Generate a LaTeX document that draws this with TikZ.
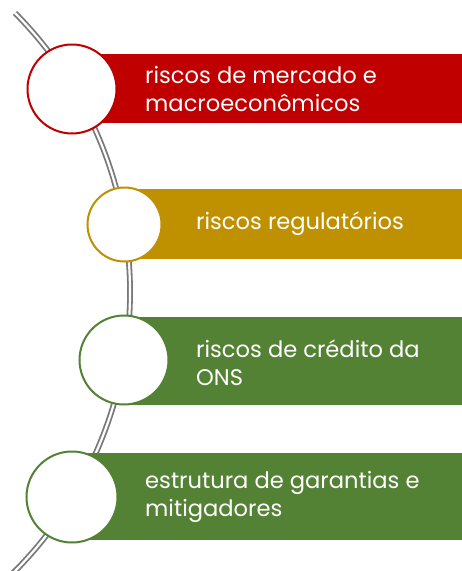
\documentclass[tikz,border=0pt]{standalone}
\usepackage{fontspec}
\setmainfont{Poppins}
\definecolor{rred}{HTML}{C00000}
\definecolor{ggold}{HTML}{BF9000}
\definecolor{ggreen}{HTML}{548235}

\begin{document}
\begin{tikzpicture}[x=1pt,y=1pt,
  disc/.style={circle, fill=white, line width=2pt, inner sep=0pt, minimum size=89pt},
  txt/.style={anchor=west, align=left, inner sep=0pt, white, font=\fontsize{22.6}{28}\selectfont}]
\useasboundingbox (0,0) rectangle (462,-571);
\clip (0,0) rectangle (462,-571);

% the curved rail
\draw[line width=1.8pt, gray!95!black, double=white, double distance=2.2pt] (15,-13) arc[start angle=44.8, end angle=-50, radius=396pt];

% bars
\fill[rred] (72,-54) rectangle (462,-123);
\fill[ggold] (124,-189) rectangle (462,-259);
\fill[ggreen] (124,-317) rectangle (462,-405);
\fill[ggreen] (72,-453) rectangle (462,-540);

% circles
\node[disc, draw=rred] (c1) at (72,-89) {};
\node[disc, draw=ggold, minimum size=74pt] (c2) at (124.5,-224.5) {};
\node[disc, draw=ggreen] (c3) at (124,-360) {};
\node[disc, draw=ggreen, minimum size=91pt] (c4) at (72,-497) {};

% labels
\node[txt] (t1) at (145,-89) {riscos de mercado e\\macroeconômicos};
\node[txt] (t2) at (196,-224) {riscos regulatórios};
\node[txt] (t3) at (196,-363) {riscos de crédito da\\ONS};
\node[txt] (t4) at (145,-497) {estrutura de garantias e\\mitigadores};
\end{tikzpicture}
\end{document}
